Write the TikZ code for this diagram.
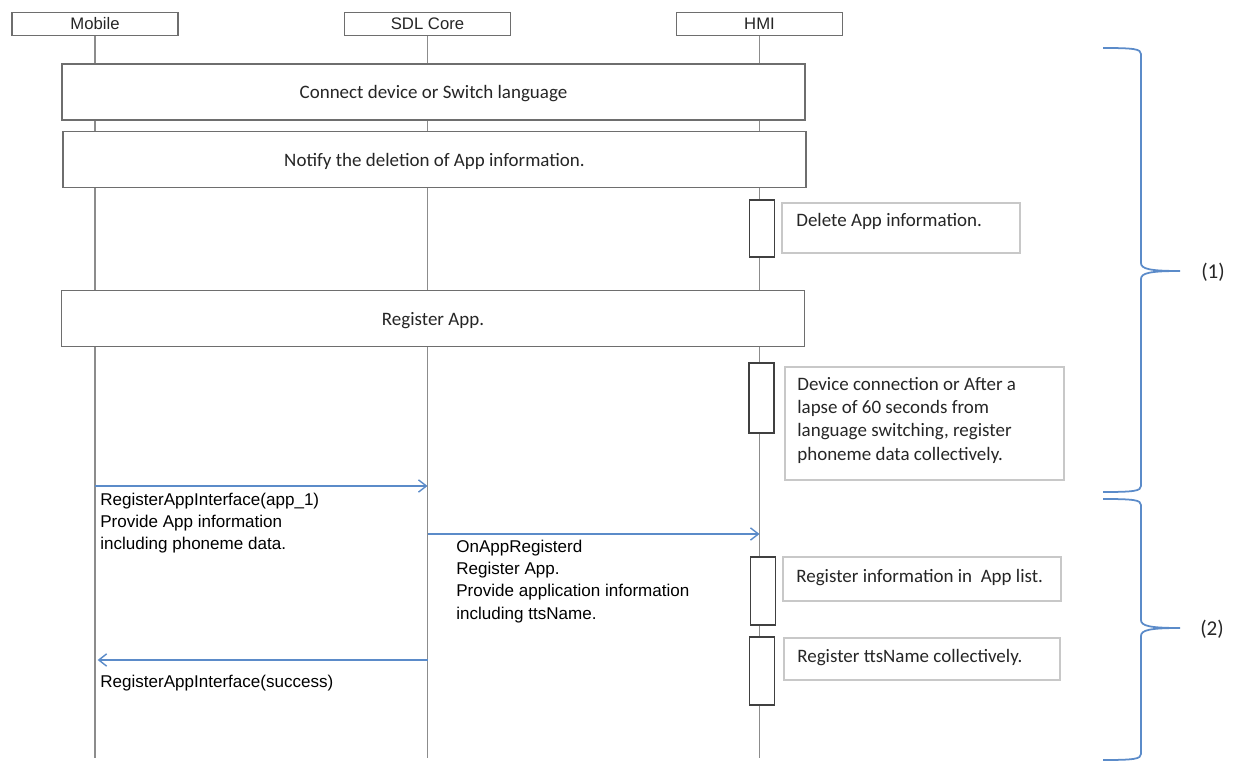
\documentclass[tikz,border=0pt]{standalone}
\usepackage{fontspec}
\setmainfont{Carlito}
\newfontfamily\hdrfont{Liberation Sans}
\usetikzlibrary{arrows.meta,positioning}
\definecolor{lifegray}{HTML}{8C8C8C}
\definecolor{boxgray}{HTML}{6E6E6E}
\definecolor{actgray}{HTML}{404040}
\definecolor{notegray}{HTML}{C8C8C8}
\definecolor{msgblue}{HTML}{5B8BC9}
\definecolor{txtgray}{HTML}{262626}

\begin{document}
\begin{tikzpicture}[x=0.02cm, y=-0.02cm, text=txtgray,
	head/.style={draw=boxgray,line width=0.7pt,fill=white,inner sep=0pt,
		minimum width=166*0.02cm,minimum height=23*0.02cm,
		font=\hdrfont\fontsize{9.5}{11}\selectfont},
	bar/.style={draw=boxgray,line width=0.8pt,fill=white,inner sep=0pt,
		minimum width=743*0.02cm,minimum height=56*0.02cm,text depth=0pt,
		font=\fontsize{10.8}{13}\selectfont},
	act/.style={draw=actgray,line width=1pt,fill=white,inner sep=0pt,
		minimum width=25*0.02cm},
	note/.style={draw=notegray,line width=0.8pt,fill=white,inner sep=0pt},
	ntxt/.style={anchor=base west,inner sep=0pt,align=left,
		font=\fontsize{10.8}{13}\selectfont},
	mtxt/.style={anchor=base west,inner sep=0pt,align=left,text=black,
		font=\hdrfont\fontsize{9.7}{12.4}\selectfont},
	life/.style={draw=lifegray,line width=0.6pt},
	msg/.style={draw=msgblue,line width=0.8pt,
		-{Straight Barb[length=4.5pt,width=7pt]}},
	brc/.style={draw=msgblue,line width=1pt}]
	\useasboundingbox (0,0) rectangle (1247,776);
	% lifelines
	\node[head] (mob) at (95,24) {Mobile};
	\node[head] (sdl) at (427.5,24) {SDL Core};
	\node[head] (hmi) at (759.5,24) {HMI};
	\coordinate (mobE) at (95,758);
	\coordinate (sdlE) at (427.5,758);
	\coordinate (hmiE) at (759.5,758);
	\draw[life] (mob) -- (mobE);
	\draw[life] (sdl) -- (sdlE);
	\draw[life] (hmi) -- (hmiE);
	% phases
	\node[bar] (conn) at (433.5,92) {Connect device or Switch language};
	\node[bar] (notif) at (434.5,159.5) {Notify the deletion of App information.};
	\node[bar] (reg) at (433,318.5) {Register App.};
	% HMI side (multi-line texts sit on their last line)
	\node[act,minimum height=57*0.02cm] (a1) at (762,228.5) {};
	\node[note,minimum width=238*0.02cm,minimum height=50*0.02cm] (n1) at (901,228) {};
	\node[ntxt] at (796,227) {Delete App information.};
	\node[act,minimum height=70*0.02cm] (a2) at (761.5,398) {};
	\node[note,minimum width=279*0.02cm,minimum height=113*0.02cm] (n2) at (924.5,423.5) {};
	\node[ntxt,font=\fontsize{10.8}{13.1}\selectfont] at (797,460) {Device connection or After a\\lapse of 60 seconds from\\language switching, register\\phoneme data collectively.};
	\node[act,minimum height=68*0.02cm] (a3) at (763,591) {};
	\node[note,minimum width=278*0.02cm,minimum height=44*0.02cm] (n3) at (922,579) {};
	\node[ntxt] at (796,582) {Register information in \ App list.};
	\node[act,minimum height=68*0.02cm] (a4) at (762,671) {};
	\node[note,minimum width=276*0.02cm,minimum height=42*0.02cm] (n4) at (922,659) {};
	\node[ntxt] at (797,662) {Register ttsName collectively.};
	% messages
	\draw[msg] (mob |- 0,486) -- (sdl |- 0,486);
	\node[mtxt] (m1) at (100,549) {RegisterAppInterface(app\_1)\\Provide App information\\including phoneme data.};
	\draw[msg] (sdl |- 0,534) -- (hmi |- 0,534);
	\node[mtxt,font=\hdrfont\fontsize{9.7}{12.6}\selectfont] (m2) at (456,619) {OnAppRegisterd\\Register App.\\Provide application information\\including ttsName.};
	\draw[msg,shorten >=1.5pt] (sdl |- 0,660) -- (mob |- 0,660);
	\node[mtxt] (m3) at (100,687) {RegisterAppInterface(success)};
	% braces
	\draw[brc] (1103,48) .. controls (1134,48) and (1141,49) .. (1141,54) -- (1141,263)
		.. controls (1141,269) and (1150,271) .. (1180,271)
		.. controls (1150,271) and (1141,273) .. (1141,279) -- (1141,486)
		.. controls (1141,491) and (1134,492) .. (1103,492);
	\draw[brc] (1103,499) .. controls (1134,499) and (1141,500) .. (1141,505) -- (1141,620)
		.. controls (1141,626) and (1150,628) .. (1180,628)
		.. controls (1150,628) and (1141,630) .. (1141,636) -- (1141,754)
		.. controls (1141,759) and (1134,760) .. (1103,760);
	\node[font=\fontsize{12}{14}\selectfont] (p1) at (1213,272) {(1)};
	\node[font=\fontsize{12}{14}\selectfont] (p2) at (1212,629) {(2)};
\end{tikzpicture}
\end{document}
